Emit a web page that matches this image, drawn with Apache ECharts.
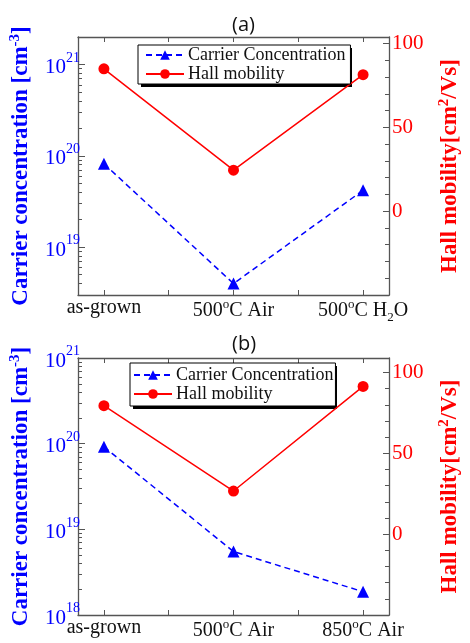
<!DOCTYPE html>
<html>
<head>
<meta charset="utf-8">
<script src="https://cdn.jsdelivr.net/npm/echarts@6/dist/echarts.min.js"></script>
<style>
    html, body { margin: 0; padding: 0; background: #fff; }
    #main { width: 470px; height: 643px; }
</style>
</head>
<body>
<div id="main"></div>
<script>
    // panel (a)
    var labelsA = ['as-grown', '500{sup|o}C Air', '500{sup|o}C H{sub|2}O'];
    var carrierA = [8.2e19, 4.0e18, 4.2e19];
    var mobilityA = [85, 24.5, 81.5];
    // panel (b)
    var labelsB = ['as-grown', '500{sup|o}C Air', '850{sup|o}C Air'];
    var carrierB = [9.2e19, 5.5e18, 1.87e18];
    var mobilityB = [79.5, 26.7, 91.4];

    // ticks
    var xTicks = [0, 0.5, 1, 1.5, 2];
    var xLabelTicks = [0, 1, 2];
    var decades = [1e18, 1e19, 1e20, 1e21];
    var mantissas = [2, 3, 4, 5, 6, 7, 8, 9];
    var mobTicks = [0, 50, 100];
    var mobMinor = [-40, -30, -20, -10, 10, 20, 30, 40, 60, 70, 80, 90];

    var serif = "'Liberation Serif', 'Times New Roman', serif";
    var axisColor = '#555';
    var blue = '#0000ff';
    var red = '#ff0000';

    var logMinor = [];
    decades.forEach(function (d) {
        mantissas.forEach(function (m) { logMinor.push(d * m); });
    });

    function pairs(arr) {
        return arr.map(function (v, i) { return [i, v]; });
    }

    var axisLine = { onZero: false, lineStyle: { color: axisColor, width: 1.3 } };

    function xAxes(grid, labels) {
        return [{
            type: 'value', gridIndex: grid, min: -0.2, max: 2.2, position: 'bottom',
            axisLine: axisLine,
            axisTick: { inside: true, length: 5, customValues: xTicks, lineStyle: { color: axisColor } },
            axisLabel: {
                customValues: xLabelTicks, margin: 3,
                formatter: function (v) { return labels[Math.round(v)]; },
                fontFamily: serif, fontSize: 20, color: '#111',
                rich: {
                    sup: { fontFamily: serif, fontSize: 13, color: '#111', verticalAlign: 'top', padding: [0, 0, 13, 0] },
                    sub: { fontFamily: serif, fontSize: 13, color: '#111', verticalAlign: 'bottom', padding: [10, 0, 0, 0] }
                }
            },
            splitLine: { show: false }
        }, {
            type: 'value', gridIndex: grid, min: -0.2, max: 2.2, position: 'top',
            axisLine: axisLine,
            axisTick: { inside: true, length: 5, customValues: xTicks, lineStyle: { color: axisColor } },
            axisLabel: { show: false },
            splitLine: { show: false }
        }];
    }

    function yAxes(grid, logMin, logMax, mobMin, mobMax) {
        return [{
            type: 'log', logBase: 10, gridIndex: grid, min: logMin, max: logMax, position: 'left',
            axisLine: axisLine,
            axisTick: { inside: true, length: 7, customValues: decades, lineStyle: { color: axisColor } },
            axisLabel: {
                customValues: decades, margin: -2,
                formatter: function (v) { return '{n|10}{sup|' + Math.round(Math.log10(v)) + '}'; },
                rich: {
                    n: { fontFamily: serif, fontSize: 21, color: blue, padding: [6, 0, 0, 0] },
                    sup: { fontFamily: serif, fontSize: 14, color: blue, verticalAlign: 'top' }
                }
            },
            name: 'Carrier concentration [cm{sup|-3}]',
            nameLocation: 'middle', nameGap: 43, nameRotate: 90,
            nameTextStyle: {
                fontFamily: serif, fontSize: 23, fontWeight: 'bold', color: blue,
                rich: { sup: { fontFamily: serif, fontSize: 15, fontWeight: 'bold', color: blue, verticalAlign: 'top', padding: [0, 0, 12, 0] } }
            },
            splitLine: { show: false }
        }, {
            type: 'log', logBase: 10, gridIndex: grid, min: logMin, max: logMax, position: 'left',
            axisLine: { show: false, onZero: false },
            axisTick: { inside: true, length: 4, customValues: logMinor, lineStyle: { color: axisColor } },
            axisLabel: { show: false },
            splitLine: { show: false }
        }, {
            type: 'value', gridIndex: grid, min: mobMin, max: mobMax, position: 'right',
            axisLine: axisLine,
            axisTick: { inside: true, length: 6, customValues: mobTicks, lineStyle: { color: axisColor } },
            axisLabel: { customValues: mobTicks, margin: 3, fontFamily: serif, fontSize: 21, color: red },
            name: 'Hall mobility[cm{sup|2}/Vs]',
            nameLocation: 'middle', nameGap: 48, nameRotate: 90,
            nameTextStyle: {
                fontFamily: serif, fontSize: 23, fontWeight: 'bold', color: red,
                rich: { sup: { fontFamily: serif, fontSize: 15, fontWeight: 'bold', color: red, verticalAlign: 'top', padding: [0, 0, 12, 0] } }
            },
            splitLine: { show: false }
        }, {
            type: 'value', gridIndex: grid, min: mobMin, max: mobMax, position: 'right',
            axisLine: { show: false, onZero: false },
            axisTick: { inside: true, length: 4, customValues: mobMinor, lineStyle: { color: axisColor } },
            axisLabel: { show: false },
            splitLine: { show: false }
        }];
    }

    function series(xi, yi, carrier, mobility) {
        return [{
            name: 'Carrier Concentration', type: 'line', xAxisIndex: xi, yAxisIndex: yi,
            data: pairs(carrier), symbol: 'triangle', symbolSize: 12,
            lineStyle: { color: blue, width: 1.5, type: [6, 4] },
            itemStyle: { color: blue }
        }, {
            name: 'Hall mobility', type: 'line', xAxisIndex: xi, yAxisIndex: yi + 2,
            data: pairs(mobility), symbol: 'circle', symbolSize: 11,
            lineStyle: { color: red, width: 1.5 },
            itemStyle: { color: red }
        }];
    }

    function legend(left, top, pad) {
        return {
            data: ['Carrier Concentration', 'Hall mobility'],
            orient: 'vertical', left: left, top: top,
            itemWidth: 38, itemHeight: 12, itemGap: 1,
            padding: pad,
            backgroundColor: '#fff', borderColor: '#000', borderWidth: 1,
            textStyle: { fontFamily: serif, fontSize: 18, color: '#111', lineHeight: 18, padding: [0, 0, 0, -1] }
        };
    }

    // drop shadow behind each legend box
    function legendShadow(x, y, w, h) {
        return { type: 'rect', left: x, top: y, z: 1, shape: { width: w, height: h }, style: { fill: '#000' } };
    }

    var chart = echarts.init(document.getElementById('main'));
    chart.setOption({
        backgroundColor: '#fff',
        animation: false,
        title: [
            { text: '(a)', left: 227, top: 10, textStyle: { fontFamily: "'Open Sans', sans-serif", fontSize: 20, fontWeight: 'normal', color: '#111' } },
            { text: '(b)', left: 227, top: 329, textStyle: { fontFamily: "'Open Sans', sans-serif", fontSize: 20, fontWeight: 'normal', color: '#111' } }
        ],
        legend: [legend(138, 45, [1, 5, 1, 7]), legend(130, 363, [3, 2, 3, 3])],
        graphic: [legendShadow(141, 48, 211, 39), legendShadow(133, 366, 204, 43)],
        grid: [
            { left: 78, width: 324, top: 37, height: 258 },
            { left: 78, width: 324, top: 358, height: 257 }
        ],
        xAxis: xAxes(0, labelsA).concat(xAxes(1, labelsB)),
        yAxis: yAxes(0, 3e18, 2e21, -50, 104).concat(yAxes(1, 1e18, 1.000001e21, -50, 109)),
        series: series(0, 0, carrierA, mobilityA).concat(series(2, 4, carrierB, mobilityB))
    });
</script>
</body>
</html>
